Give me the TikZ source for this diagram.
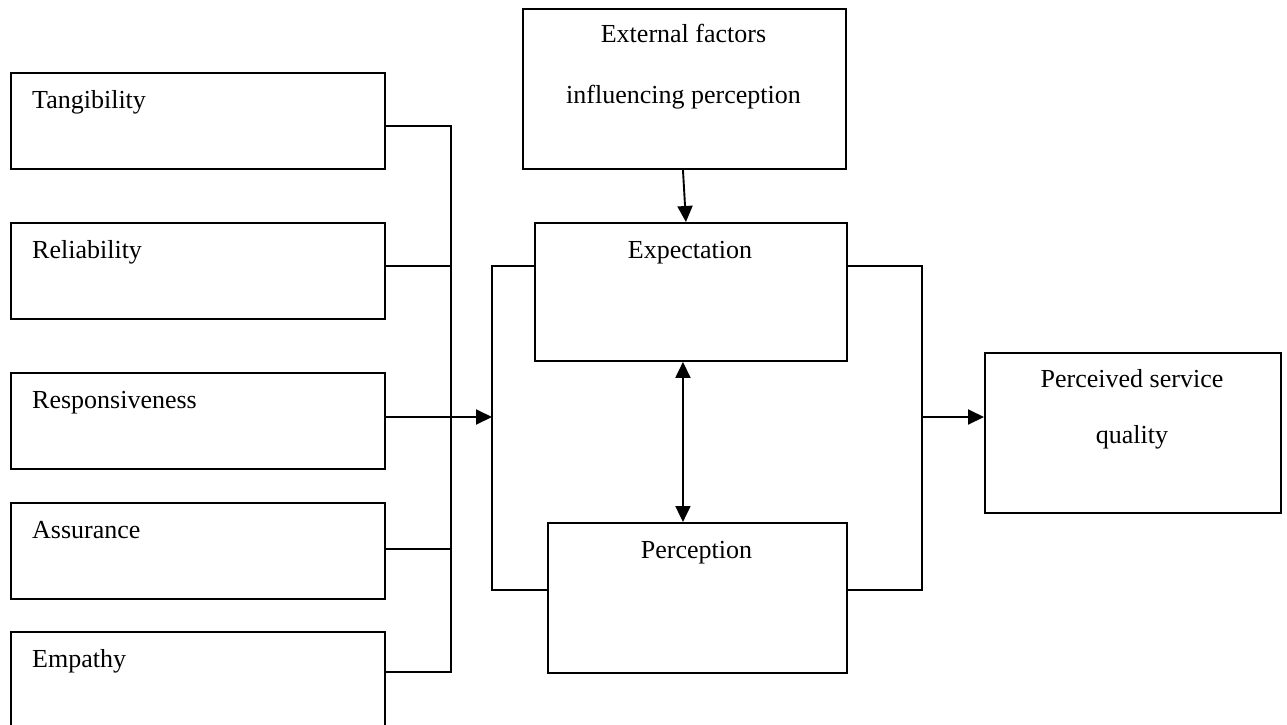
\documentclass[tikz,border=0pt]{standalone}
\usepackage{fontspec}
\setmainfont{Liberation Serif}
\usetikzlibrary{arrows.meta}
\begin{document}
\begin{tikzpicture}[x=1pt,y=-1pt,
  box/.style={draw,line width=1.9pt,fill=white,inner sep=0pt,anchor=north west},
  lbl/.style={inner sep=0pt,font=\fontsize{26}{30}\selectfont},
  ln/.style={line width=1.9pt},
  tip/.style={},
  arr/.style={line width=1.9pt,-{Triangle[length=16pt 0,width=15pt 0]}},
  darr/.style={line width=1.9pt,{Triangle[length=16pt 0,width=15pt 0]}-{Triangle[length=16pt 0,width=15pt 0]}}]
\useasboundingbox (0,0) rectangle (1287,725);
% left boxes
\node[box,minimum width=374pt,minimum height=96pt] (tang) at (10,72) {};
\node[box,minimum width=374pt,minimum height=96pt] (rel) at (10,222) {};
\node[box,minimum width=374pt,minimum height=96pt] (resp) at (10,372) {};
\node[box,minimum width=374pt,minimum height=96pt] (ass) at (10,502) {};
\node[box,minimum width=374pt,minimum height=130pt] (emp) at (10,631) {};
\node[lbl,anchor=base west] (tangT) at (32,108) {Tangibility};
\node[lbl,anchor=base west] (relT) at (32,258) {Reliability};
\node[lbl,anchor=base west] (respT) at (32,408) {Responsiveness};
\node[lbl,anchor=base west] (assT) at (32,538) {Assurance};
\node[lbl,anchor=base west] (empT) at (32,667) {Empathy};
% centre boxes
\node[box,minimum width=323pt,minimum height=160pt] (ext) at (522,8) {};
\node[lbl,anchor=base] (extT1) at (683.5,43) {External factors};
\node[lbl,anchor=base] (extT2) at (683.5,103) {influencing perception};
\node[box,minimum width=312pt,minimum height=138pt] (exp) at (534,222) {};
\node[lbl,anchor=base] (expT) at (690,258) {Expectation};
\node[box,minimum width=299pt,minimum height=150pt] (perc) at (547,522) {};
\node[lbl,anchor=base] (percT) at (696.5,558) {Perception};
% right box
\node[box,minimum width=296pt,minimum height=160pt] (psq) at (984,352) {};
\node[lbl,anchor=base] (psqT1) at (1132,387) {Perceived service};
\node[lbl,anchor=base] (psqT2) at (1132,443) {quality};
% junction coordinates
\coordinate (jT) at (451,126);
\coordinate (jR) at (451,266);
\coordinate (jA) at (451,549);
\coordinate (jE) at (451,672);
\coordinate (lbT) at (492,266);
\coordinate (lbM) at (492,417);
\coordinate (lbB) at (492,590);
\coordinate (rbT) at (922,266);
\coordinate (rbM) at (922,417);
\coordinate (rbB) at (922,590);
% connectors
\draw[ln] (tang.east |- jT) -- (jT) -- (jE) -- (emp.east |- jE);
\draw[ln] (rel.east |- jR) -- (jR);
\draw[ln] (ass.east |- jA) -- (jA);
\draw[arr] (resp.east |- lbM) -- (lbM);
\draw[ln] (exp.west |- lbT) -- (lbT) -- (lbB) -- (perc.west |- lbB);
\draw[ln] (exp.east |- rbT) -- (rbT) -- (rbB) -- (perc.east |- rbB);
\draw[arr] (rbM) -- (psq.west |- rbM);
\draw[arr] ([xshift=-1.5pt]ext.south) -- ([xshift=-5pt]exp.north);
\draw[darr] ([xshift=-8pt]exp.south) -- ([xshift=-14.5pt]perc.north);
\end{tikzpicture}
\end{document}
